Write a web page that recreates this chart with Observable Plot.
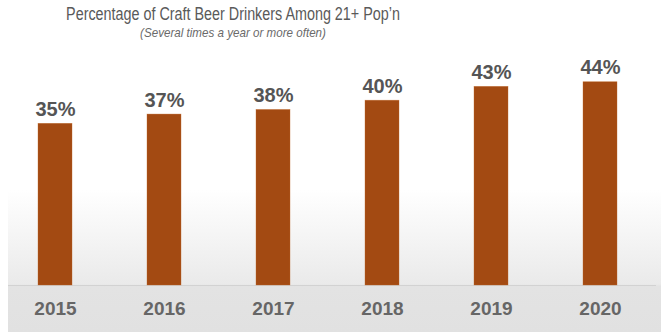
<!DOCTYPE html>
<html>
<head>
<meta charset="utf-8">
<script src="https://cdn.jsdelivr.net/npm/d3@7"></script>
<script src="https://cdn.jsdelivr.net/npm/@observablehq/plot@0.6"></script>
<style>
  html, body { margin: 0; padding: 0; background: #fff; }
  #wrap { position: relative; width: 661px; height: 332px; overflow: hidden; font-family: "Liberation Sans", Arial, sans-serif; }
  #title { position: absolute; left: 0; width: 466px; top: 6px; text-align: center; font-size: 17.5px; line-height: 17.5px; color: #5a5a5a; transform: scaleX(0.82); transform-origin: 233px 0; white-space: nowrap; }
  #subtitle { position: absolute; left: 0; width: 466px; top: 25.5px; text-align: center; font-size: 13.5px; line-height: 13.5px; font-style: italic; color: #6a6a6a; transform: scaleX(0.86); transform-origin: 233px 0; white-space: nowrap; }
  #chart { position: absolute; left: 0; top: 0; }
</style>
</head>
<body>
<div id="wrap">
  <div id="chart"></div>
  <div id="title">Percentage of Craft Beer Drinkers Among 21+ Pop’n</div>
  <div id="subtitle">(Several times a year or more often)</div>
</div>
<script>
const years = ["2015", "2016", "2017", "2018", "2019", "2020"];
const shares = [35, 37, 38, 40, 43, 44];
const labels = ["35%", "37%", "38%", "40%", "43%", "44%"];

const data = years.map((y, i) => ({year: y, value: shares[i], label: labels[i]}));

const chart = Plot.plot({
  width: 661,
  height: 332,
  marginTop: 54,
  marginBottom: 47,
  marginLeft: 8,
  marginRight: 5,
  style: {
    background: "linear-gradient(to right, #ffffff 8px, rgba(255,255,255,0) 8px), linear-gradient(to bottom, #ffffff 0px, #ffffff 190px, #eaeaea 284px, #e3e3e3 286px, #e1e1e1 332px)",
    fontFamily: "'Liberation Sans', Arial, sans-serif"
  },
  x: {domain: years, range: [8, 656], paddingInner: 0.69, paddingOuter: 0.296, align: 0.44, axis: null},
  y: {domain: [0, 50], axis: null},
  marks: [
    Plot.ruleY([0], {stroke: "#d2d2d2", strokeWidth: 1}),
    Plot.barY(data, {x: "year", y: "value", fill: "#a34a12", stroke: "#c2692a", strokeWidth: 0.6, strokeOpacity: 0.6}),
    Plot.text(data, {x: "year", y: "value", text: "label", lineAnchor: "bottom", dy: -8, fontSize: 20, fontWeight: "bold", fill: "#555555"}),
    Plot.text(data, {x: "year", y: () => 0, text: "year", lineAnchor: "middle", dy: 23, fontSize: 19, fontWeight: "bold", fill: "#666666"})
  ]
});
document.getElementById("chart").appendChild(chart);
</script>
</body>
</html>
